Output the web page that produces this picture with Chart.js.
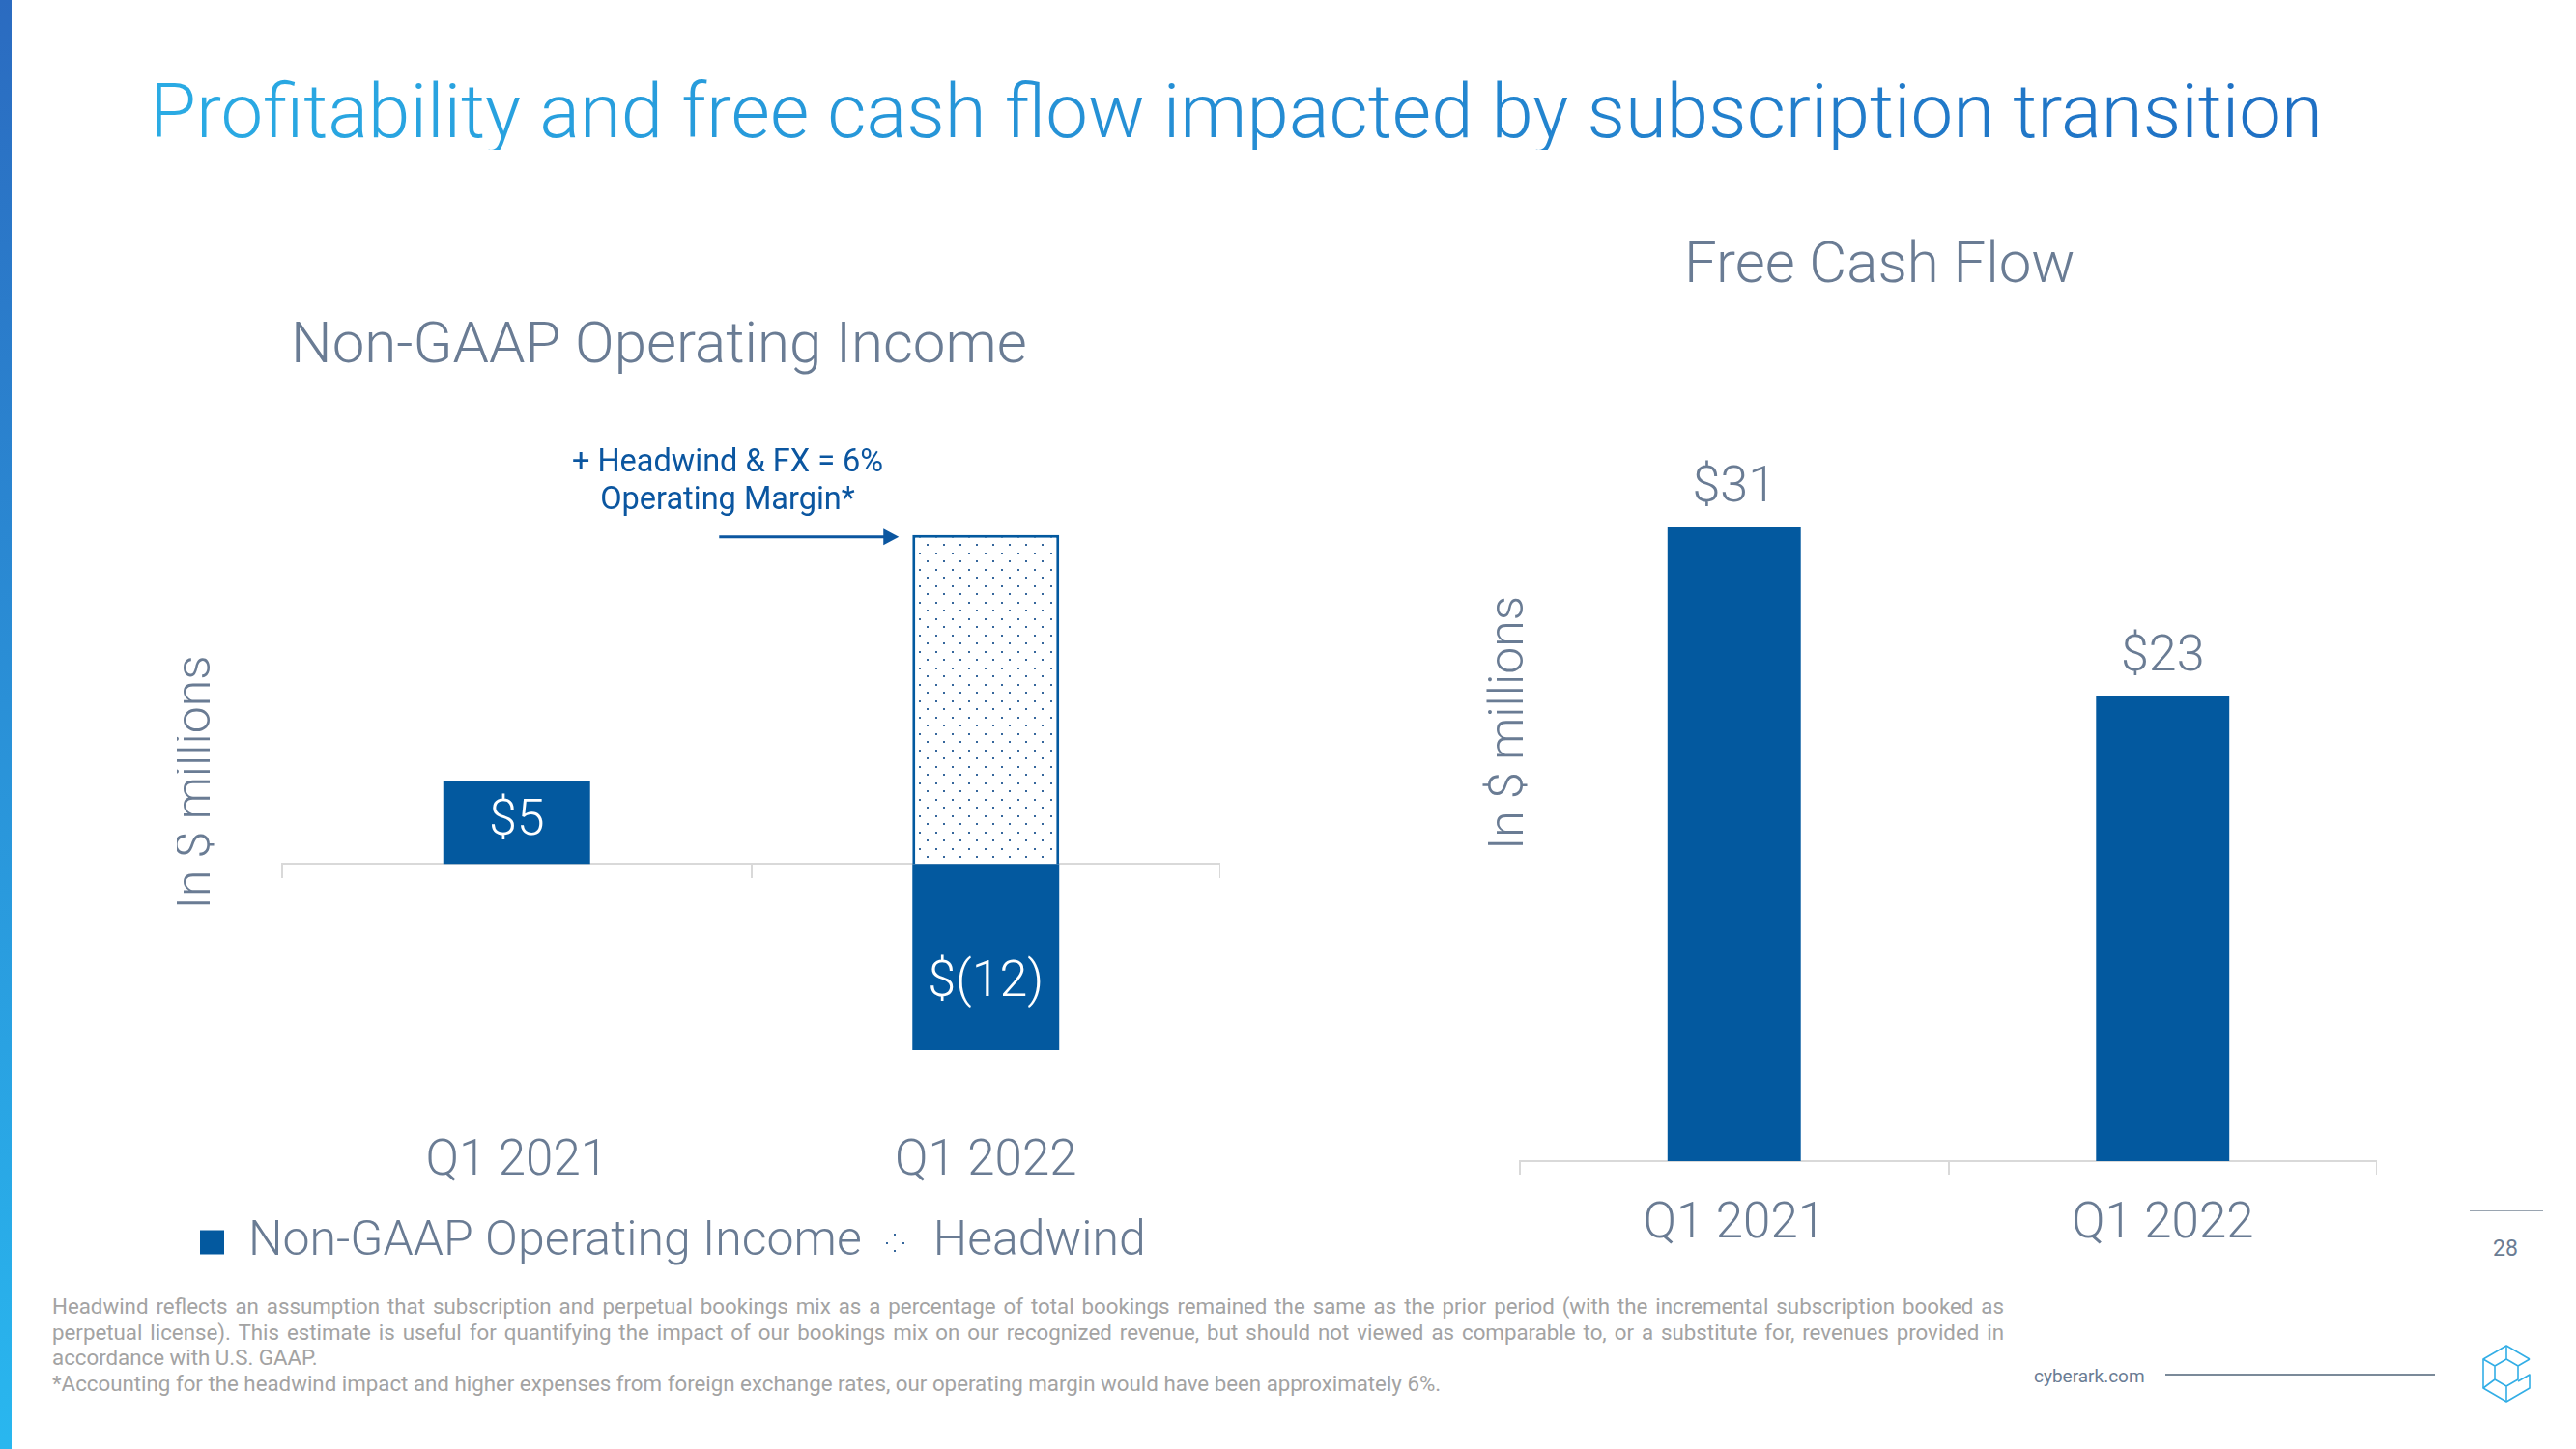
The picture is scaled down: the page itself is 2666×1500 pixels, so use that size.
<!DOCTYPE html>
<html>
<head>
<meta charset="utf-8">
<script src="https://cdn.jsdelivr.net/npm/chart.js@4.4.1/dist/chart.umd.min.js"></script>
<style>
html, body { margin: 0; padding: 0; background: #fff; }
body { width: 2666px; height: 1500px; position: relative; overflow: hidden; font-family: Roboto, "Noto Sans", sans-serif; }
.abs { position: absolute; white-space: nowrap; }
#edge { left: 0; top: 0; width: 12px; height: 1500px; background: linear-gradient(#2b6bc0, #29b7ef); }
#title { left: 155px; top: 77px; font-size: 78px; line-height: 78px; font-weight: 300;
  background: linear-gradient(90deg, #2aabe4, #1f6fc3); -webkit-background-clip: text; background-clip: text; color: transparent; }
.sub { font-size: 60px; line-height: 60px; font-weight: 300; color: #6a7c94; }
#opSub { left: 301px; top: 325px; }
#fcfSub { left: 1743px; top: 242px; }
#note { left: 503px; top: 458px; width: 500px; text-align: center; white-space: normal; font-size: 32.5px; line-height: 39px; font-weight: 400; color: #0b56a0; }
#leftBox { left: 183px; top: 450px; width: 1080px; height: 871px; }
#rightBox { left: 1520px; top: 295px; width: 940px; height: 1025px; }
#foot { left: 54px; top: 1339px; width: 2020px; font-size: 22.3px; line-height: 26.6px; color: #a3a3a3; white-space: normal; }
#foot div { text-align: justify; text-align-last: justify; }
#foot div.plain { text-align-last: left; }
#site { left: 2105px; top: 1415px; font-size: 19px; line-height: 19px; color: #6a7c94; }
#siteLine { left: 2241px; top: 1422px; width: 279px; height: 2px; background: #7b8a99; }
#pageLine { left: 2556px; top: 1253px; width: 76px; height: 1px; background: #9aa5b1; }
#page { left: 2578px; top: 1281px; width: 30px; text-align: center; font-size: 23px; line-height: 23px; color: #6a7c94; }
#logo { left: 2540px; top: 1370px; width: 100px; height: 100px; }
</style>
</head>
<body>
<div id="edge" class="abs"></div>
<div id="title" class="abs">Profitability and free cash flow impacted by subscription transition</div>
<div id="opSub" class="abs sub">Non-GAAP Operating Income</div>
<div id="fcfSub" class="abs sub">Free Cash Flow</div>
<div id="leftBox" class="abs"><canvas id="opChart"></canvas></div>
<div id="rightBox" class="abs"><canvas id="fcfChart"></canvas></div>
<div id="note" class="abs">+ Headwind &amp; FX = 6%<br>Operating Margin*</div>
<div id="foot" class="abs">
  <div>Headwind reflects an assumption that subscription and perpetual bookings mix as a percentage of total bookings remained the same as the prior period (with the incremental subscription booked as</div>
  <div>perpetual license). This estimate is useful for quantifying the impact of our bookings mix on our recognized revenue, but should not viewed as comparable to, or a substitute for, revenues provided in</div>
  <div class="plain">accordance with U.S. GAAP.</div>
  <div class="plain">*Accounting for the headwind impact and higher expenses from foreign exchange rates, our operating margin would have been approximately 6%.</div>
</div>
<div id="site" class="abs">cyberark.com</div>
<div id="siteLine" class="abs"></div>
<div id="pageLine" class="abs"></div>
<div id="page" class="abs">28</div>
<svg id="logo" class="abs" viewBox="0 0 100 100" fill="none" stroke="#33aee6" stroke-width="1.6" stroke-linejoin="round">
  <path d="M78 37 L54 23 L30 37 L30 67 L54 81 L78 67 L78 53 L66 60"/>
  <path d="M54 23 L54 37 M30 37 L42 44 M42 44 L54 37 L66 44 L66 58 L54 65 L42 58 Z M54 65 L54 81 M42 58 L30 67 M78 37 L66 44"/>
</svg>

<script>
// ---- data ----
const quarters = ['Q1 2021', 'Q1 2022'];
const opIncome = [5.3, -11.9];          // Non-GAAP operating income, $M
const headwind = [null, 21.0];          // headwind & FX on top of Q1 2022
const opLabels = ['$5', '$(12)'];
const fcf = [31.1, 22.8];               // free cash flow, $M
const fcfLabels = ['$31', '$23'];

const NAVY = '#03599f';
const SLATE = '#6a7c94';
const AXIS = '#d9d9d9';

Chart.defaults.font.family = 'Roboto';
Chart.defaults.font.weight = 300;
Chart.defaults.color = SLATE;

// dotted fill for the headwind bar
function dotPattern() {
    const c = document.createElement('canvas');
    c.width = 17; c.height = 17;
    const g = c.getContext('2d');
    g.fillStyle = '#ffffff';
    g.fillRect(0, 0, 17, 17);
    g.fillStyle = '#36679c';
    g.fillRect(3, 3, 2, 2);
    g.fillRect(11, 11, 2, 2);
    return g.createPattern(c, 'repeat');
}

// value text on bars
const valueLabels = {
    id: 'valueLabels',
    afterDatasetsDraw(chart, args, opts) {
        const ctx = chart.ctx;
        const ds = chart.data.datasets[opts.dataset];
        const meta = chart.getDatasetMeta(opts.dataset);
        ctx.save();
        ctx.font = opts.font;
        ctx.fillStyle = opts.color;
        ctx.textAlign = 'center';
        ctx.textBaseline = 'middle';
        meta.data.forEach((bar, i) => {
            let y;
            if (opts.above) y = bar.y - opts.gap;
            else y = ds.data[i] >= 0 ? (bar.y + bar.base) / 2 : bar.y - opts.gap;
            ctx.fillText(opts.texts[i], bar.x, y);
        });
        ctx.restore();
    }
};

// arrow pointing at the headwind bar
const headwindArrow = {
    id: 'headwindArrow',
    afterDatasetsDraw(chart) {
        const bar = chart.getDatasetMeta(1).data[1];
        const ctx = chart.ctx;
        const tip = bar.x - bar.width / 2 - 14;
        const y = bar.y + 2;
        ctx.save();
        ctx.strokeStyle = '#0b56a0';
        ctx.fillStyle = '#0b56a0';
        ctx.lineWidth = 3;
        ctx.beginPath();
        ctx.moveTo(tip - 186, y);
        ctx.lineTo(tip - 10, y);
        ctx.stroke();
        ctx.beginPath();
        ctx.moveTo(tip, y);
        ctx.lineTo(tip - 16, y - 8.5);
        ctx.lineTo(tip - 16, y + 8.5);
        ctx.closePath();
        ctx.fill();
        ctx.restore();
    }
};

const axisGrid = { offset: true, drawOnChartArea: false, drawTicks: true, tickLength: 14, color: AXIS, lineWidth: 2 };

new Chart(document.getElementById('opChart'), {
    type: 'bar',
    data: {
        labels: quarters,
        datasets: [
            { label: 'Non-GAAP Operating Income', data: opIncome, backgroundColor: NAVY, borderWidth: 0,
              barPercentage: 0.313, categoryPercentage: 1 },
            { label: 'Headwind', data: headwind, backgroundColor: dotPattern(), borderColor: NAVY, borderWidth: 3,
              borderSkipped: 'start', barPercentage: 0.313, categoryPercentage: 1 }
        ]
    },
    options: {
        responsive: true,
        maintainAspectRatio: false,
        animation: false,
        layout: { padding: 0 },
        scales: {
            x: { stacked: true, position: { y: 0 }, offset: true, grid: axisGrid,
                 border: { color: AXIS, width: 2 }, ticks: { display: false } },
            x2: { type: 'category', position: 'bottom', offset: true, grid: { display: false, drawTicks: false },
                  border: { display: false }, ticks: { font: { size: 51, weight: 300 }, color: SLATE, padding: 3 } },
            y: { stacked: true, min: -17, max: 27.4, grid: { display: false, drawTicks: false }, border: { display: false },
                 ticks: { display: false },
                 title: { display: true, text: 'In $ millions', font: { size: 50, weight: 300 }, color: SLATE,
                          padding: { top: -9, bottom: 58 } } }
        },
        plugins: {
            legend: {
                position: 'bottom', align: 'start',
                labels: {
                    boxWidth: 25, boxHeight: 25, padding: 24, color: SLATE, font: { size: 50, weight: 300 },
                    generateLabels(chart) {
                        const items = Chart.defaults.plugins.legend.labels.generateLabels(chart);
                        items.forEach(it => { it.lineWidth = 0; });
                        return items;
                    }
                }
            },
            tooltip: { enabled: false },
            valueLabels: { dataset: 0, texts: opLabels, font: '300 52px Roboto', color: '#ffffff', gap: 69, above: false }
        }
    },
    plugins: [valueLabels, headwindArrow]
});

new Chart(document.getElementById('fcfChart'), {
    type: 'bar',
    data: {
        labels: quarters,
        datasets: [
            { label: 'Free Cash Flow', data: fcf, backgroundColor: NAVY, borderWidth: 0,
              barPercentage: 0.311, categoryPercentage: 1 }
        ]
    },
    options: {
        responsive: true,
        maintainAspectRatio: false,
        animation: false,
        layout: { padding: 0 },
        scales: {
            x: { offset: true, grid: axisGrid, border: { color: AXIS, width: 2 },
                 ticks: { font: { size: 51, weight: 300 }, color: SLATE, padding: 21.4 } },
            y: { min: 0, max: 43, grid: { display: false, drawTicks: false }, border: { display: false },
                 ticks: { display: false },
                 title: { display: true, text: 'In $ millions', font: { size: 50, weight: 300 }, color: SLATE,
                          padding: { top: 13, bottom: -20 } } }
        },
        plugins: {
            legend: { display: false },
            tooltip: { enabled: false },
            valueLabels: { dataset: 0, texts: fcfLabels, font: '300 52px Roboto', color: SLATE, gap: 40, above: true }
        }
    },
    plugins: [valueLabels]
});
</script>
</body>
</html>
